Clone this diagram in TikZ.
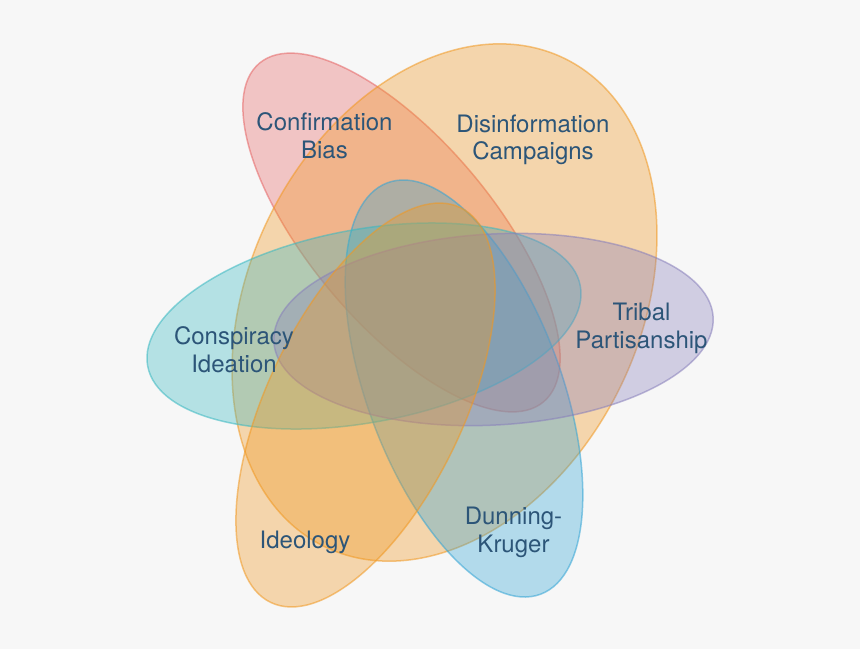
\documentclass[tikz,border=0pt]{standalone}
\usepackage{fontspec}
\setmainfont{TeX Gyre Heros}
\definecolor{bgc}{RGB}{247,247,247}
\definecolor{cpink}{RGB}{230,101,101}
\definecolor{corange}{RGB}{241,152,33}
\definecolor{cblue}{RGB}{50,164,213}
\definecolor{cteal}{RGB}{56,184,193}
\definecolor{cpurple}{RGB}{136,127,187}
\definecolor{ctext}{RGB}{44,85,120}
\tikzset{
  setshape/.style={fill=#1, draw=#1, fill opacity=0.35, draw opacity=0.55, line width=1.5pt},
  lbl/.style={text=ctext, align=center, anchor=base, inner sep=0pt,
    font=\fontsize{24}{27.6}\selectfont}
}
\begin{document}
\begin{tikzpicture}[x=1pt,y=-1pt]
\fill[bgc] (0,0) rectangle (860,649);
\useasboundingbox (0,0) rectangle (860,649);
% sets
\draw[setshape=cpink, shift={(401.5,232.5)}, rotate=-50] (0,0) ellipse [x radius=221pt, y radius=92pt];
\draw[setshape=corange, shift={(444.5,302.5)}, rotate=63.6] (0,0) ellipse [x radius=272pt, y radius=195pt];
\draw[setshape=cblue, shift={(464,388.5)}, rotate=-69.6] (0,0) ellipse [x radius=219.5pt, y radius=97pt];
\draw[setshape=cteal, shift={(364,326)}, rotate=10.5] (0,0) ellipse [x radius=220pt, y radius=96.5pt];
\draw[setshape=cpurple, shift={(493.5,329.5)}, rotate=3.2] (0,0) ellipse [x radius=220pt, y radius=95.5pt];
\draw[setshape=corange, shift={(365.5,405)}, rotate=64.35] (0,0) ellipse [x radius=219pt, y radius=98pt];
% labels (base anchor = baseline of the last line)
\node[lbl] (confirmation) at (324.5,158.3) {Confirmation\\Bias};
\node[lbl] (disinformation) at (533,159.7) {Disinformation\\Campaigns};
\node[lbl] (conspiracy) at (234,372.3) {Conspiracy\\Ideation};
\node[lbl] (tribal) at (641.5,348.3) {Tribal\\Partisanship};
\node[lbl] (ideology) at (305,548.3) {Ideology};
\node[lbl] (dunning) at (513.5,552.3) {Dunning-\\Kruger};
\end{tikzpicture}
\end{document}
